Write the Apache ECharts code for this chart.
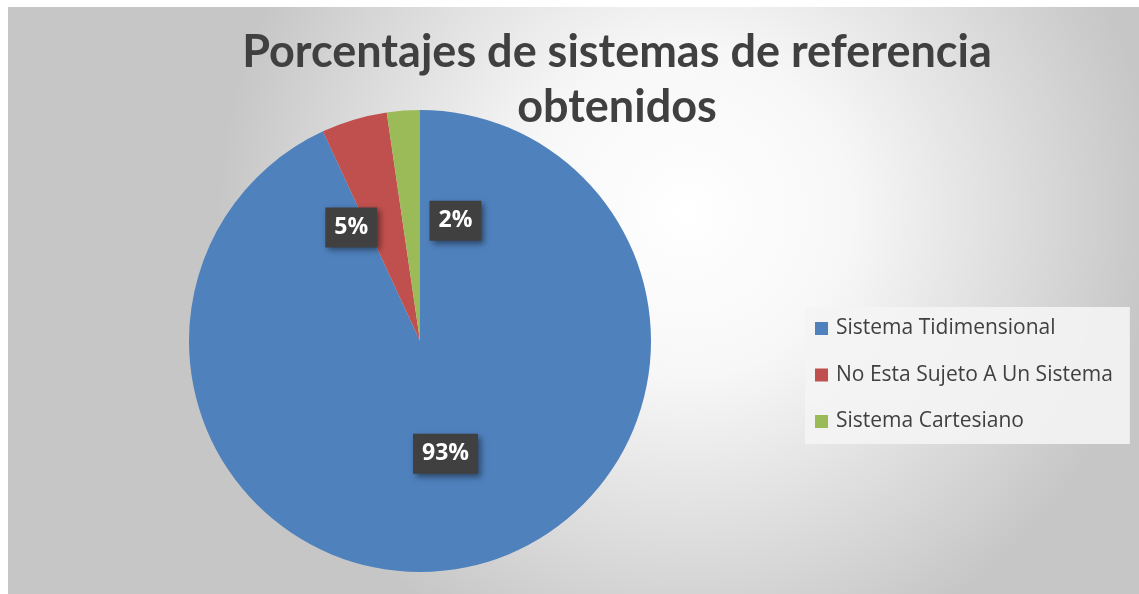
<!DOCTYPE html>
<html><head><meta charset="utf-8">
<script src="https://cdn.jsdelivr.net/npm/echarts@6/dist/echarts.min.js"></script>
<style>html,body{margin:0;padding:0;background:#fff;}#c{width:1139px;height:594px;}</style>
</head><body><div id="c"></div>
<script>
var titleText = 'Porcentajes de sistemas de referencia\nobtenidos';
var categories = ['Sistema Tidimensional', 'No Esta Sujeto A Un Sistema', 'Sistema Cartesiano'];
var values = [93.1, 4.6, 2.3];
var colors = ['#4f81bd', '#c0504d', '#9bbb59'];
var labelShift = [[0, -3], [-35, 0], [44, -2]];

var chart = echarts.init(document.getElementById('c'));
chart.setOption({
  animation: false,
  color: colors,
  graphic: [{
    type: 'rect', z: -10, silent: true,
    shape: { x: 8, y: 7, width: 1131, height: 587 },
    style: {
      fill: {
        type: 'radial', x: 0.6, y: 0.35, r: 0.8,
        colorStops: [
          { offset: 0, color: '#ffffff' },
          { offset: 0.35, color: '#f7f7f7' },
          { offset: 0.75, color: '#d9d9d9' },
          { offset: 1, color: '#c6c6c6' }
        ]
      }
    }
  }],
  title: {
    text: titleText,
    left: 612, top: 20, textAlign: 'center',
    textStyle: { fontFamily: 'Lato', fontWeight: 'bold', fontSize: 45, color: '#404040', lineHeight: 55 }
  },
  legend: {
    orient: 'vertical', left: 805, top: 307,
    backgroundColor: 'rgba(244,244,244,0.9)',
    padding: [11, 17, 12, 10],
    itemWidth: 13, itemHeight: 13, itemGap: 25.5, icon: 'rect',
    textStyle: { fontFamily: 'Open Sans', fontSize: 21, lineHeight: 20, color: '#404040', padding: [0, 0, 0, 3] },
    data: categories
  },
  series: [{
    type: 'pie', center: [420, 341], radius: 231,
    startAngle: 90, clockwise: true,
    itemStyle: { borderWidth: 0 },
    label: {
      position: 'inside', formatter: '{d}%',
      fontFamily: 'Open Sans', fontWeight: 'bold', fontSize: 23, lineHeight: 24, color: '#ffffff',
      backgroundColor: '#404040', padding: [8, 9, 8, 9],
      shadowColor: 'rgba(0,0,0,0.45)', shadowBlur: 6, shadowOffsetX: 3, shadowOffsetY: 3
    },
    percentPrecision: 0,
    labelLayout: function (p) {
      var s = labelShift[p.dataIndex];
      return { dx: s[0], dy: s[1] };
    },
    data: categories.map(function (n, i) { return { name: n, value: values[i] }; })
  }]
});
</script></body></html>
